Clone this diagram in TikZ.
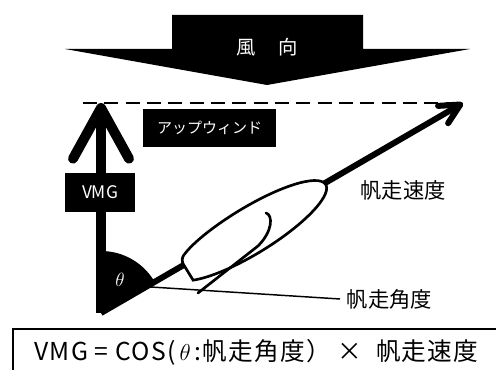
\documentclass[tikz,border=0pt]{standalone}
\usepackage{fontspec}
\setmainfont{Noto Sans CJK JP}
\usetikzlibrary{arrows.meta}
\tikzstyle{blackbox} = [align=center,fill=black,text=white,rectangle,inner sep=0pt]
\tikzstyle{caption} = [align=center,text centered,font=\fontsize{16}{18}\selectfont]
\tikzstyle{formula} = [align=center,draw=black,line width=1.5pt,rectangle,font=\fontsize{18.5}{20}\selectfont\addfontfeature{LetterSpace=5}]
\tikzstyle{thick arrow} = [line width=7.5pt,-{Straight Barb[length=38pt,width=42pt,line cap=round,line join=round]}]
\tikzstyle{speed arrow} = [line width=4.5pt,-{Straight Barb[length=15pt,width=15pt,line cap=round,line join=round]}]

\begin{document}
\begin{tikzpicture}[x=0.75pt,y=0.75pt]
				\useasboundingbox (0,0) rectangle (496,370);
				\fill (172,355) -- (363,355) -- (363,321) -- (470,321) -- (267,285) -- (65,321) -- (172,321) -- cycle;
				\node (wind) [text=white,font=\fontsize{14.5}{16}\selectfont] at (267,323) {風\hspace{17pt}向};
				\coordinate (O) at (101,57);
				\coordinate (vtop) at (101,267);
				\coordinate (dtip) at (463,267);
				\coordinate (lead) at (135,84);
				\draw [line width=1.5pt,dash pattern=on 10.5pt off 5.5pt] (83,267) -- (dtip);
				\fill (O) -- ++(30:62) arc [start angle=30,end angle=90,radius=46.5pt] -- cycle;
				\draw [thick arrow] (O) -- (vtop);
				\draw [speed arrow] (O) -- (dtip);
				\node (vmg) [blackbox,minimum width=52.5pt,minimum height=29pt,font=\fontsize{13}{15}\selectfont] at (100,177.5) {VMG};
				\node (upwind) [blackbox,minimum width=100pt,minimum height=28.5pt,font=\fontsize{11.25}{13}\selectfont] at (209.5,242) {アップウィンド};
				\node (theta) [text=white,font=\fontsize{15}{15}\selectfont] at (120,90) {$\theta$};
				\begin{scope}[shift={(255,142)},rotate=31.6]
					\filldraw [fill=white,line width=2pt,rounded corners=4pt] (-5,0) ++(148.5:88 and 23)
						[sharp corners] arc [start angle=148.5,end angle=-148.5,x radius=66pt,y radius=17.25pt]
						[rounded corners=4pt] -- cycle;
				\end{scope}
				\draw [line width=2pt,line cap=round] (266,157) .. controls (273,155) and (273,139) .. (258,124) -- (198,77);
				\node (speed) [caption] at (403,180) {帆走速度};
				\node (angle) [caption,anchor=west,inner sep=5pt] at (340,71) {帆走角度};
				\draw [line width=1.1pt] (lead) -- (angle.west);
				\node (vmgdef) [formula,minimum width=365pt,minimum height=34.5pt] at (256.5,18) {VMG = COS(\,$\theta$\,:帆走角度）\ ×\ \ 帆走速度};
\end{tikzpicture}
\end{document}
